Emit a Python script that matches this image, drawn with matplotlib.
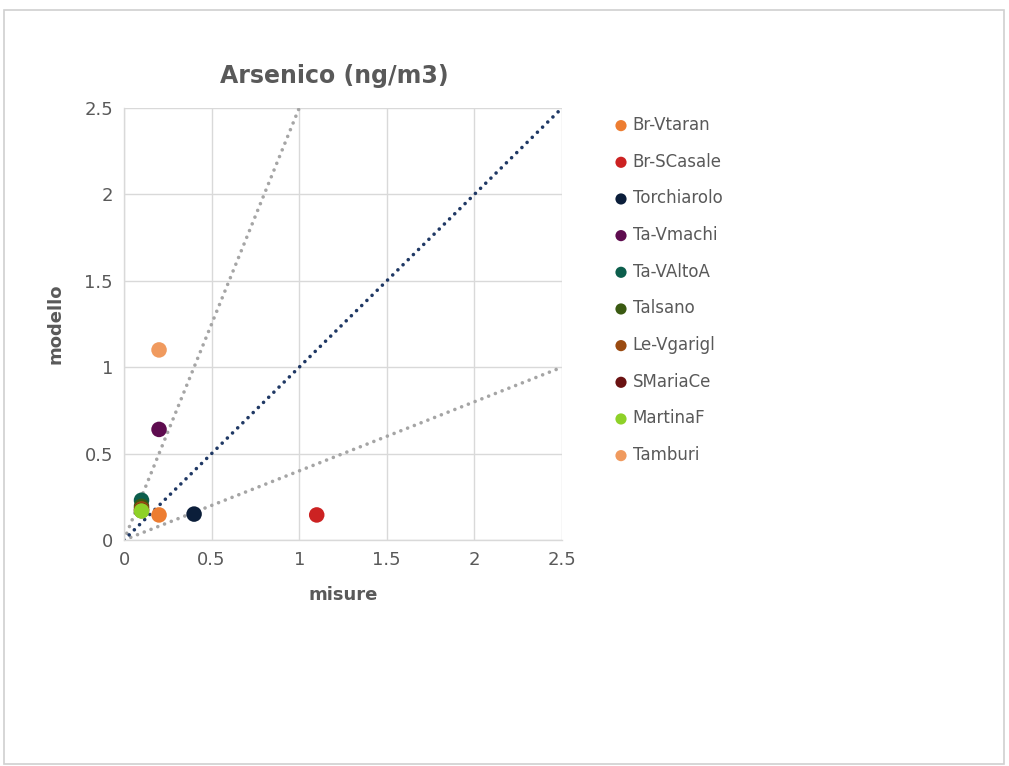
import matplotlib
matplotlib.use("Agg")
import matplotlib.pyplot as plt
from matplotlib.patches import Rectangle
import numpy as np

plt.rcParams['font.family'] = ['DejaVu Sans']

stations = ["Br-Vtaran", "Br-SCasale", "Torchiarolo", "Ta-Vmachi", "Ta-VAltoA",
            "Talsano", "Le-Vgarigl", "SMariaCe", "MartinaF", "Tamburi"]
misure = [0.2, 1.1, 0.4, 0.2, 0.1, 0.1, 0.1, 0.1, 0.1, 0.2]
modello = [0.145, 0.145, 0.15, 0.64, 0.23, 0.195, 0.18, 0.17, 0.168, 1.1]
colors = ["#ED7D31", "#CC2222", "#0B1E3A", "#5E0C4F", "#0C5E4C",
          "#3A5A12", "#9A4A10", "#6A1212", "#8ED128", "#F09A5E"]

ref_x = [0, 2.5]
ref_11 = [0, 2.5]
upper_x = [0, 1.0]
upper_y = [0, 2.5]
lower_x = [0, 2.5]
lower_y = [0, 1.0]

txt = "#595959"
fig = plt.figure(figsize=(10.09, 7.66), dpi=100)
fig.patches.append(Rectangle((4/1009, 2/766), 1000/1009, 754/766, transform=fig.transFigure,
                             fill=False, edgecolor="#D0D0D0", linewidth=1.2))

ax = fig.add_axes([124/1009, 226/766, 438/1009, 432/766])
dot = (0, (0.01, 2.0))
ax.plot(upper_x, upper_y, linestyle=dot, color="#A5A5A5", linewidth=2.6, dash_capstyle="round", zorder=2)
ax.plot(lower_x, lower_y, linestyle=dot, color="#A5A5A5", linewidth=2.6, dash_capstyle="round", zorder=2)
ax.plot(ref_x, ref_11, linestyle=dot, color="#1F3864", linewidth=2.6, dash_capstyle="round", zorder=2)

for name, xv, yv, c in zip(stations, misure, modello, colors):
    ax.scatter([xv], [yv], s=125, color=c, label=name, zorder=3, edgecolors="none")

ax.set_xlim(0, 2.5)
ax.set_ylim(0, 2.5)
ticks = [0, 0.5, 1, 1.5, 2, 2.5]
ax.set_xticks(ticks)
ax.set_yticks(ticks)
ax.set_xticklabels(["0", "0.5", "1", "1.5", "2", "2.5"])
ax.set_yticklabels(["0", "0.5", "1", "1.5", "2", "2.5"])
ax.tick_params(colors=txt, labelsize=13, length=0, pad=8)
ax.grid(True, color="#D9D9D9", linewidth=1)
ax.set_axisbelow(True)
for s in ["top", "right"]:
    ax.spines[s].set_visible(False)
for s in ["left", "bottom"]:
    ax.spines[s].set_color("#D9D9D9")
    ax.spines[s].set_linewidth(1)

ax.set_xlabel("misure", color=txt, fontsize=13, fontweight="bold", labelpad=12)
ax.set_ylabel("modello", color=txt, fontsize=13, fontweight="bold", labelpad=14)
fig.text(334/1009, 1 - 76/766, "Arsenico (ng/m3)", color=txt, fontsize=17, fontweight="bold",
         ha="center", va="center")

leg = fig.legend(loc="upper left", bbox_to_anchor=(596/1009, 1 - 101/766), frameon=False,
                 fontsize=12, labelcolor=txt, handletextpad=0.1, labelspacing=1.12,
                 markerscale=0.72, handlelength=1.2)

fig.savefig("out.png", dpi=100)
